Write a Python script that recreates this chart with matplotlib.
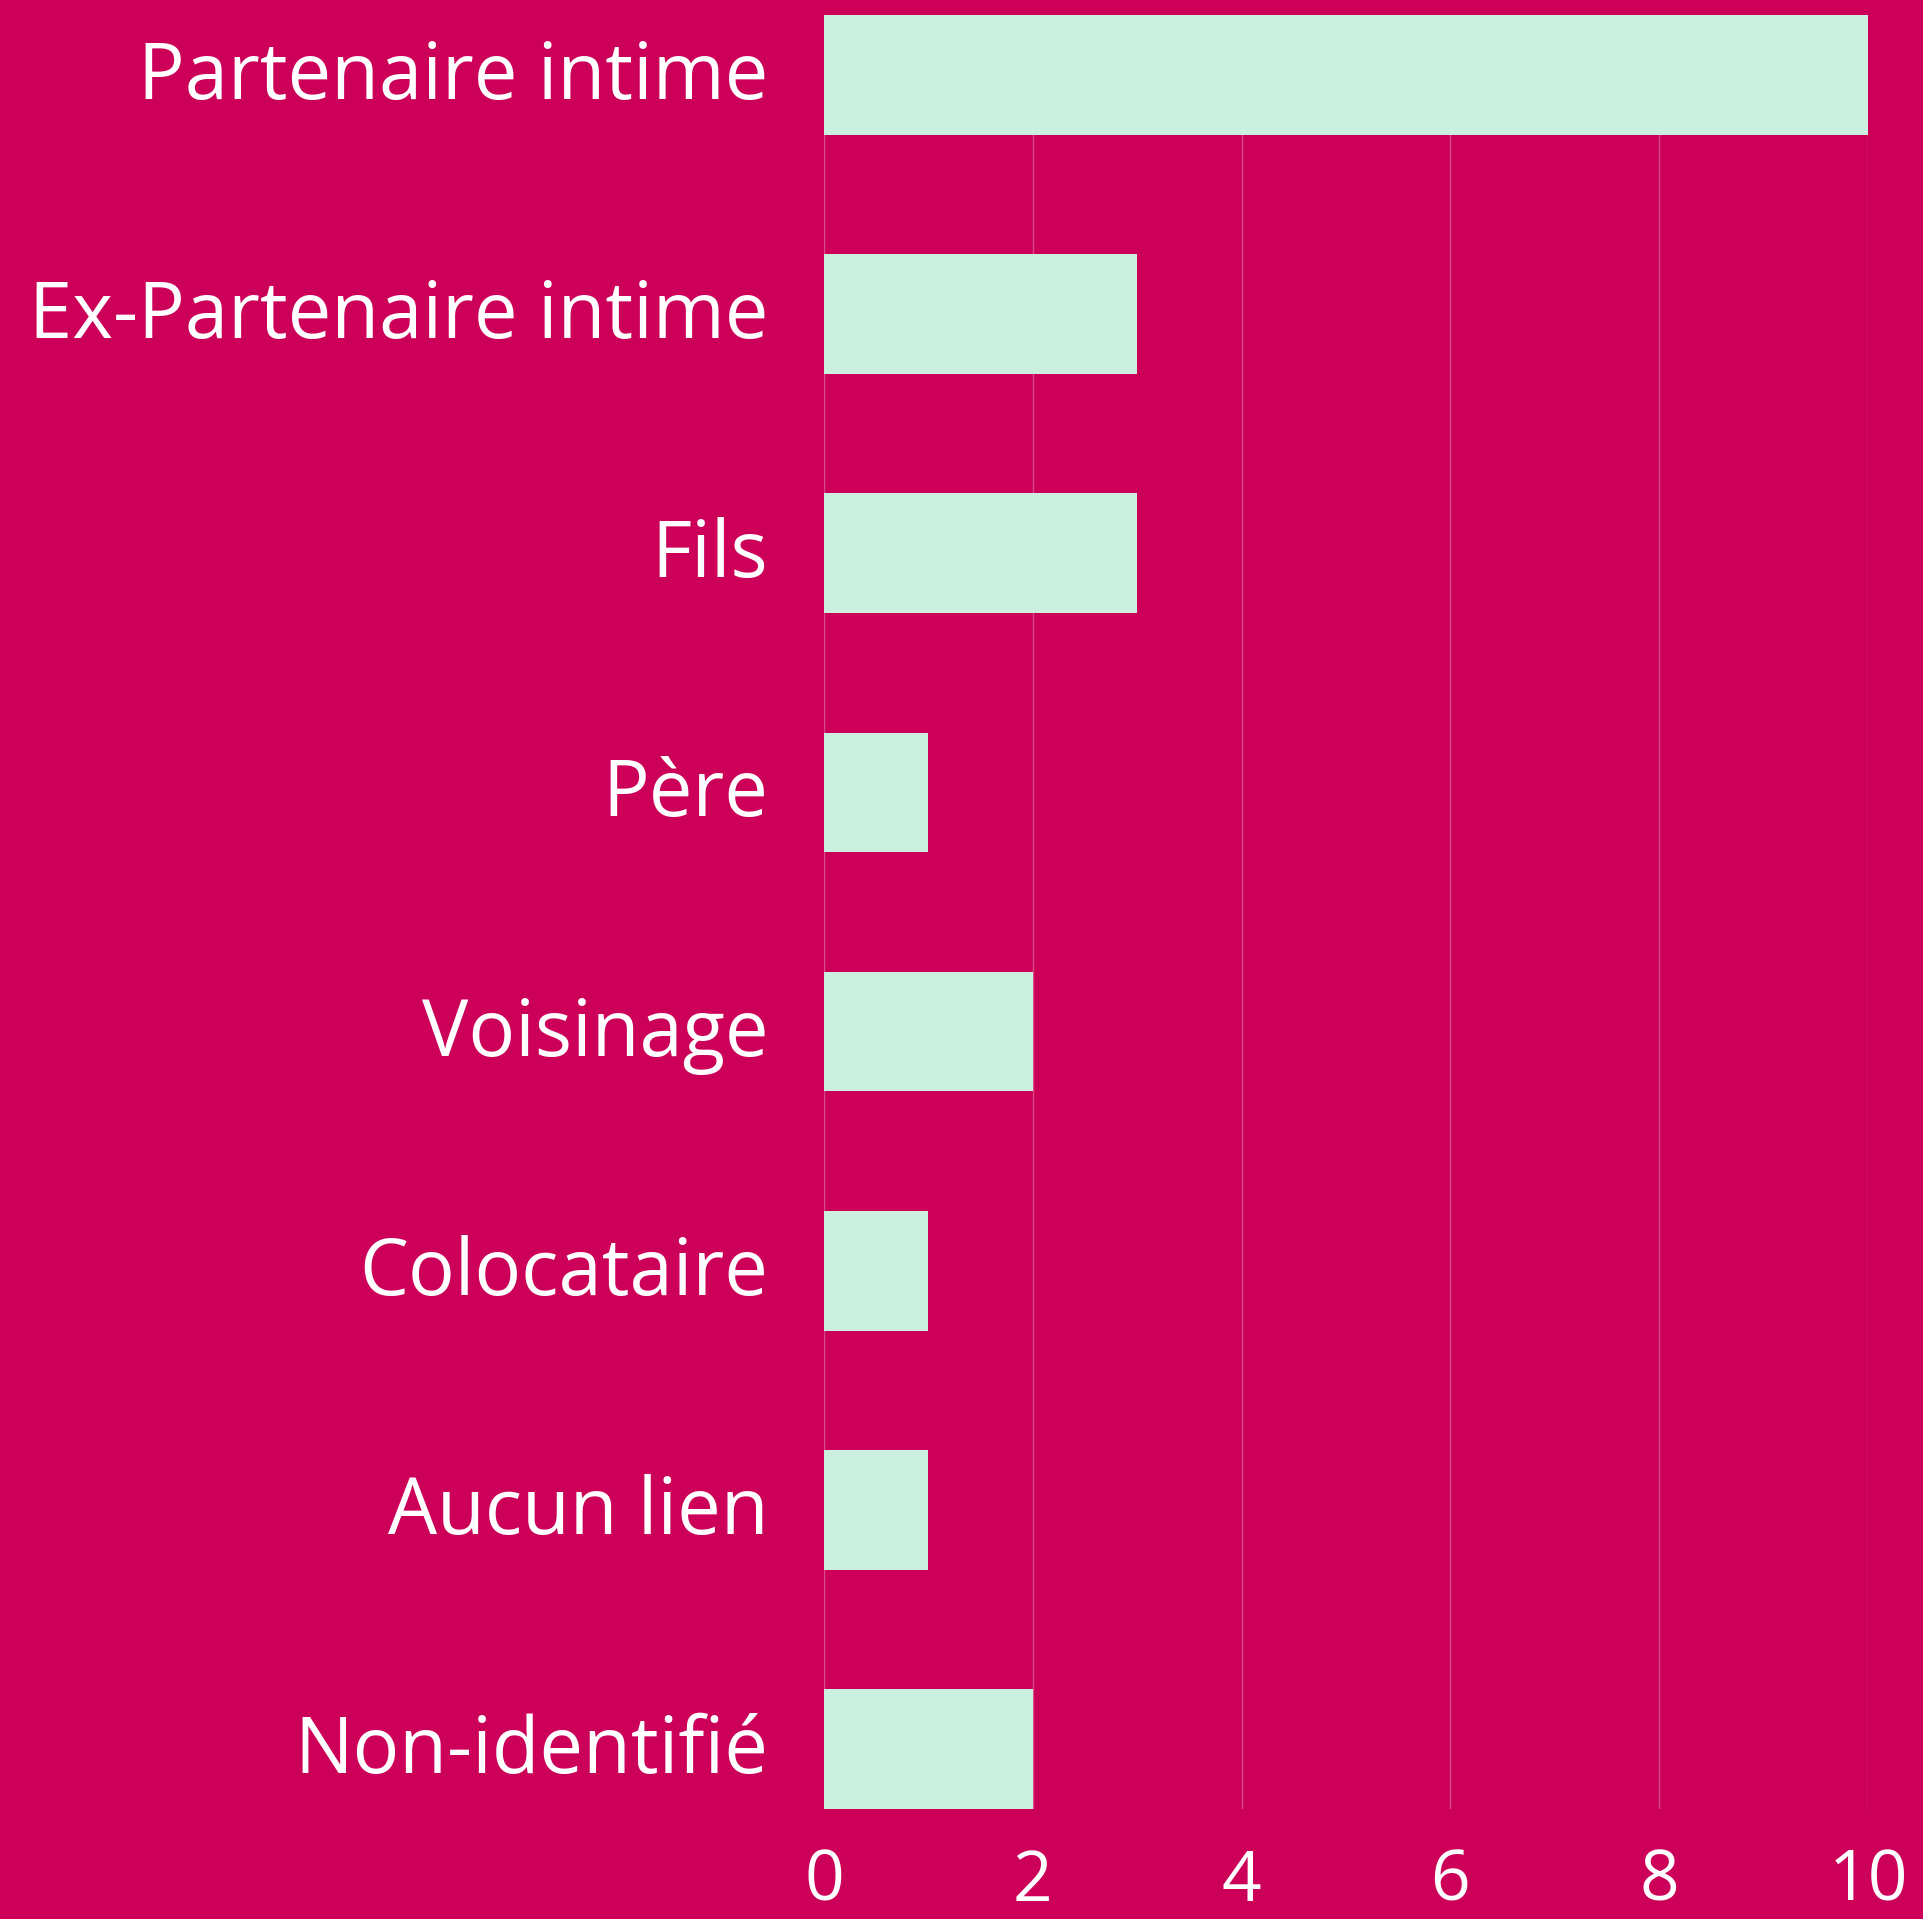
import matplotlib
matplotlib.use("Agg")
from matplotlib import pyplot as plt
from matplotlib import transforms

# data
categories = ["Partenaire intime", "Ex-Partenaire intime", "Fils", "Père",
              "Voisinage", "Colocataire", "Aucun lien", "Non-identifié"]
counts = [10, 3, 3, 1, 2, 1, 1, 2]
xticks = [0, 2, 4, 6, 8, 10]

bgColor = "#CC0058"
barColor = "#CCF0E0"

plt.rcParams["font.family"] = ["Open Sans", "DejaVu Sans"]

fig = plt.figure(figsize=(19.23, 19.19), dpi=100, facecolor=bgColor)
ax = fig.add_axes([0.4285, 0.0573, 0.5429, 0.9349])
ax.set_facecolor(bgColor)

yPos = list(range(len(categories)))
ax.barh(yPos, counts, height=0.5, color=barColor, zorder=3)

ax.set_ylim(len(categories) - 0.75, -0.25)
ax.set_xlim(0, 10)
ax.set_yticks(yPos)
ax.set_yticklabels(categories, fontsize=56, color="white")
ax.tick_params(axis="y", length=0, pad=40)
ax.set_xticks(xticks)
ax.set_xticklabels([str(t) for t in xticks], fontsize=50, color="white")
ax.tick_params(axis="x", length=0, pad=28)

# nudge the category labels up a little, like the reference
shiftUp = transforms.ScaledTranslation(0, 6 / 100, fig.dpi_scale_trans)
for lbl in ax.get_yticklabels():
    lbl.set_transform(lbl.get_transform() + shiftUp)

ax.grid(axis="x", color="#DA4A86", linewidth=1.0, zorder=0)
for s in ax.spines.values():
    s.set_visible(False)

fig.savefig("out.png", dpi=100, facecolor=bgColor)
